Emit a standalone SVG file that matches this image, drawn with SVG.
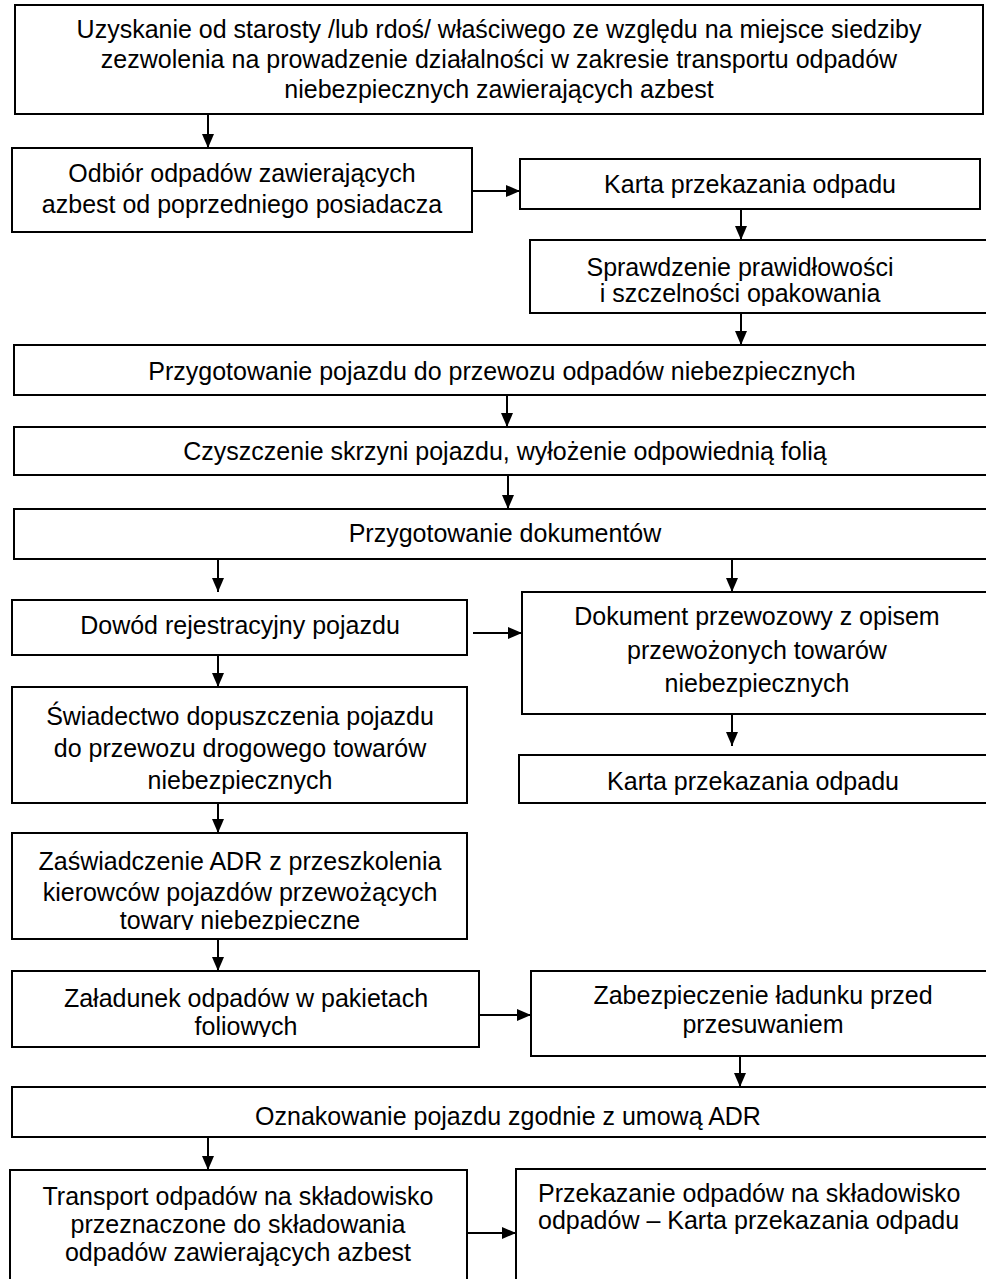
<svg xmlns="http://www.w3.org/2000/svg" width="986" height="1279" viewBox="0 0 986 1279">
<style>
.box{fill:#fff;stroke:#000;stroke-width:2}
.t{font-family:"Liberation Sans",Arial,Helvetica,sans-serif;font-size:25px;fill:#000;text-anchor:middle}
.l{text-anchor:start}
.c{stroke:#000;stroke-width:2;fill:none;marker-end:url(#ah)}
</style>
<defs>
<marker id="ah" viewBox="0 0 14 12" refX="14" refY="6" markerWidth="14" markerHeight="12" markerUnits="userSpaceOnUse" orient="auto">
<path d="M0,0 L14,6 L0,12 z" fill="#000"/>
</marker>
<clipPath id="cp4"><rect x="530" y="240" width="470" height="66"/></clipPath>
<clipPath id="cp12"><rect x="12" y="833" width="455" height="97"/></clipPath>
<clipPath id="cp13"><rect x="12" y="971" width="467" height="66"/></clipPath>
</defs>
<rect width="986" height="1279" fill="#fff"/>
<g id="connectors">
<line class="c" x1="208" y1="114" x2="208" y2="148"/>
<line class="c" x1="472" y1="191" x2="520" y2="191"/>
<line class="c" x1="741" y1="209" x2="741" y2="240"/>
<line class="c" x1="741" y1="313" x2="741" y2="345"/>
<line class="c" x1="507" y1="395" x2="507" y2="427"/>
<line class="c" x1="508" y1="475" x2="508" y2="509"/>
<line class="c" x1="218" y1="559" x2="218" y2="592"/>
<line class="c" x1="732" y1="559" x2="732" y2="592"/>
<line class="c" x1="473" y1="633" x2="522" y2="633"/>
<line class="c" x1="218" y1="655" x2="218" y2="687"/>
<line class="c" x1="732" y1="714" x2="732" y2="746"/>
<line class="c" x1="218" y1="803" x2="218" y2="833"/>
<line class="c" x1="218" y1="939" x2="218" y2="971"/>
<line class="c" x1="479" y1="1015" x2="531" y2="1015"/>
<line class="c" x1="740" y1="1056" x2="740" y2="1087"/>
<line class="c" x1="208" y1="1137" x2="208" y2="1170"/>
<line class="c" x1="467" y1="1233" x2="516" y2="1233"/>
</g>
<g id="n1"><rect class="box" x="15" y="5" width="968" height="109"/>
<text class="t" x="499" y="38">Uzyskanie od starosty /lub rdoś/ właściwego ze względu na miejsce siedziby</text>
<text class="t" x="499" y="68">zezwolenia na prowadzenie działalności w zakresie transportu odpadów</text>
<text class="t" x="499" y="98">niebezpiecznych zawierających azbest</text></g>
<g id="n2"><rect class="box" x="12" y="148" width="460" height="84"/>
<text class="t" x="242" y="182">Odbiór odpadów zawierających</text>
<text class="t" x="242" y="213">azbest od poprzedniego posiadacza</text></g>
<g id="n3"><rect class="box" x="520" y="159" width="460" height="50"/>
<text class="t" x="750" y="193">Karta przekazania odpadu</text></g>
<g id="n4"><rect class="box" x="530" y="240" width="470" height="73"/>
<text class="t" x="740" y="276">Sprawdzenie prawidłowości</text>
<text class="t" x="740" y="302" clip-path="url(#cp4)">i szczelności opakowania</text></g>
<g id="n5"><rect class="box" x="14" y="345" width="986" height="50"/>
<text class="t" x="502" y="380">Przygotowanie pojazdu do przewozu odpadów niebezpiecznych</text></g>
<g id="n6"><rect class="box" x="14" y="427" width="986" height="48"/>
<text class="t" x="505" y="460">Czyszczenie skrzyni pojazdu, wyłożenie odpowiednią folią</text></g>
<g id="n7"><rect class="box" x="14" y="509" width="986" height="50"/>
<text class="t" x="505" y="542">Przygotowanie dokumentów</text></g>
<g id="n8"><rect class="box" x="12" y="600" width="455" height="55"/>
<text class="t" x="240" y="634">Dowód rejestracyjny pojazdu</text></g>
<g id="n9"><rect class="box" x="522" y="592" width="478" height="122"/>
<text class="t" x="757" y="625">Dokument przewozowy z opisem</text>
<text class="t" x="757" y="659">przewożonych towarów</text>
<text class="t" x="757" y="692">niebezpiecznych</text></g>
<g id="n10"><rect class="box" x="12" y="687" width="455" height="116"/>
<text class="t" x="240" y="725">Świadectwo dopuszczenia pojazdu</text>
<text class="t" x="240" y="757">do przewozu drogowego towarów</text>
<text class="t" x="240" y="789">niebezpiecznych</text></g>
<g id="n11"><rect class="box" x="519" y="755" width="481" height="48"/>
<text class="t" x="753" y="790">Karta przekazania odpadu</text></g>
<g id="n12"><rect class="box" x="12" y="833" width="455" height="106"/>
<text class="t" x="240" y="870">Zaświadczenie ADR z przeszkolenia</text>
<text class="t" x="240" y="901">kierowców pojazdów przewożących</text>
<text class="t" x="240" y="929" clip-path="url(#cp12)">towary niebezpieczne</text></g>
<g id="n13"><rect class="box" x="12" y="971" width="467" height="76"/>
<text class="t" x="246" y="1007">Załadunek odpadów w pakietach</text>
<text class="t" x="246" y="1035" clip-path="url(#cp13)">foliowych</text></g>
<g id="n14"><rect class="box" x="531" y="971" width="469" height="85"/>
<text class="t" x="763" y="1004">Zabezpieczenie ładunku przed</text>
<text class="t" x="763" y="1033">przesuwaniem</text></g>
<g id="n15"><rect class="box" x="12" y="1087" width="988" height="50"/>
<text class="t" x="508" y="1125">Oznakowanie pojazdu zgodnie z umową ADR</text></g>
<g id="n16"><rect class="box" x="10" y="1170" width="457" height="120"/>
<text class="t" x="238" y="1205">Transport odpadów na składowisko</text>
<text class="t" x="238" y="1233">przeznaczone do składowania</text>
<text class="t" x="238" y="1261">odpadów zawierających azbest</text></g>
<g id="n17"><rect class="box" x="516" y="1169" width="484" height="121"/>
<text class="t l" x="538" y="1202">Przekazanie odpadów na składowisko</text>
<text class="t l" x="538" y="1229">odpadów – Karta przekazania odpadu</text></g>
</svg>
